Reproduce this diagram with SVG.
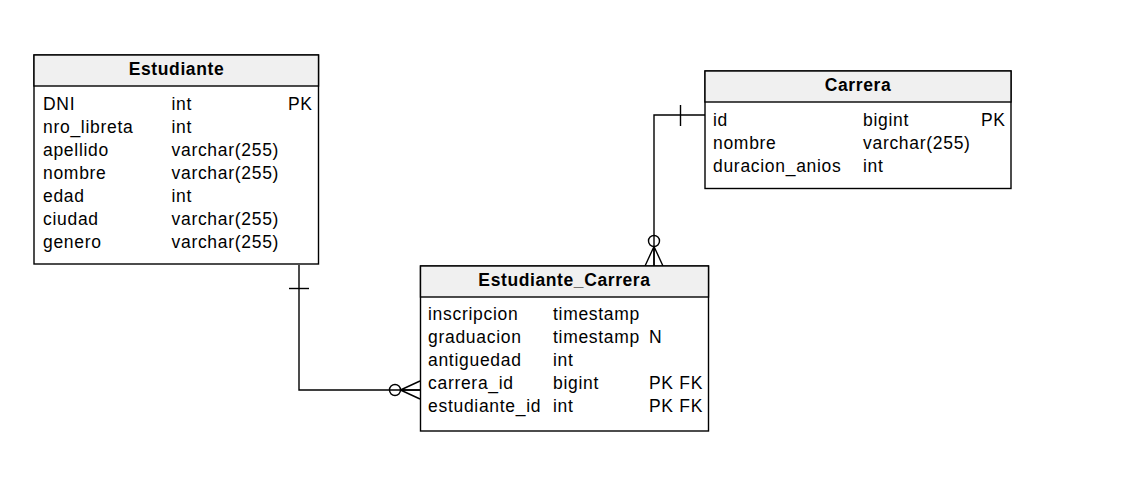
<svg xmlns="http://www.w3.org/2000/svg" width="1142" height="485" viewBox="0 0 1142 485">
<style>
.box{fill:#ffffff;stroke:#000000;stroke-width:1.4}
.hdr{fill:#f0f0f0;stroke:#000000;stroke-width:1.4}
.t{font-family:"Liberation Sans",Arial,sans-serif;font-size:17.5px;letter-spacing:0.7px;fill:#000000}
.h{font-family:"Liberation Sans",Arial,sans-serif;font-size:17.5px;letter-spacing:0.6px;font-weight:bold;fill:#000000;text-anchor:middle}
.c{fill:none;stroke:#000000;stroke-width:1.4}
</style>
<rect width="1142" height="485" fill="#ffffff"/>
<g id="connectors">
  <path class="c" d="M299 265 V390 H420"/>
  <path class="c" d="M289 288.5 H309"/>
  <circle class="c" cx="395" cy="390" r="5.5" fill="#ffffff"/>
  <path class="c" d="M400.5 390 L420 381 M400.5 390 H420 M400.5 390 L420 399"/>
  <path class="c" d="M705 115 H654 V266"/>
  <path class="c" d="M680.5 105 V126"/>
  <circle class="c" cx="654" cy="241" r="5.5" fill="#ffffff"/>
  <path class="c" d="M654 246.5 L645 266 M654 246.5 V266 M654 246.5 L663 266"/>
</g>
<g id="Estudiante">
  <rect class="box" x="34" y="55" width="284.5" height="209"/>
  <rect class="hdr" x="34" y="55" width="284.5" height="31"/>
  <text class="h" x="176.5" y="75">Estudiante</text>
  <text class="t" x="43" y="110">DNI</text><text class="t" x="171.5" y="110">int</text><text class="t" x="288" y="110">PK</text>
  <text class="t" x="43" y="133">nro_libreta</text><text class="t" x="171.5" y="133">int</text>
  <text class="t" x="43" y="156">apellido</text><text class="t" x="171.5" y="156">varchar(255)</text>
  <text class="t" x="43" y="179">nombre</text><text class="t" x="171.5" y="179">varchar(255)</text>
  <text class="t" x="43" y="202">edad</text><text class="t" x="171.5" y="202">int</text>
  <text class="t" x="43" y="225">ciudad</text><text class="t" x="171.5" y="225">varchar(255)</text>
  <text class="t" x="43" y="248">genero</text><text class="t" x="171.5" y="248">varchar(255)</text>
</g>
<g id="Carrera">
  <rect class="box" x="705" y="71" width="306" height="117.5"/>
  <rect class="hdr" x="705" y="71" width="306" height="31"/>
  <text class="h" x="858" y="91">Carrera</text>
  <text class="t" x="713" y="126">id</text><text class="t" x="863" y="126">bigint</text><text class="t" x="981" y="126">PK</text>
  <text class="t" x="713" y="149">nombre</text><text class="t" x="863" y="149">varchar(255)</text>
  <text class="t" x="713" y="172">duracion_anios</text><text class="t" x="863" y="172">int</text>
</g>
<g id="Estudiante_Carrera">
  <rect class="box" x="420.5" y="266" width="288" height="165"/>
  <rect class="hdr" x="420.5" y="266" width="288" height="31"/>
  <text class="h" x="564.5" y="286">Estudiante_Carrera</text>
  <text class="t" x="428" y="320">inscripcion</text><text class="t" x="553" y="320">timestamp</text>
  <text class="t" x="428" y="343">graduacion</text><text class="t" x="553" y="343">timestamp</text><text class="t" x="649" y="343">N</text>
  <text class="t" x="428" y="366">antiguedad</text><text class="t" x="553" y="366">int</text>
  <text class="t" x="428" y="389">carrera_id</text><text class="t" x="553" y="389">bigint</text><text class="t" x="649" y="389">PK FK</text>
  <text class="t" x="428" y="412">estudiante_id</text><text class="t" x="553" y="412">int</text><text class="t" x="649" y="412">PK FK</text>
</g>
</svg>
